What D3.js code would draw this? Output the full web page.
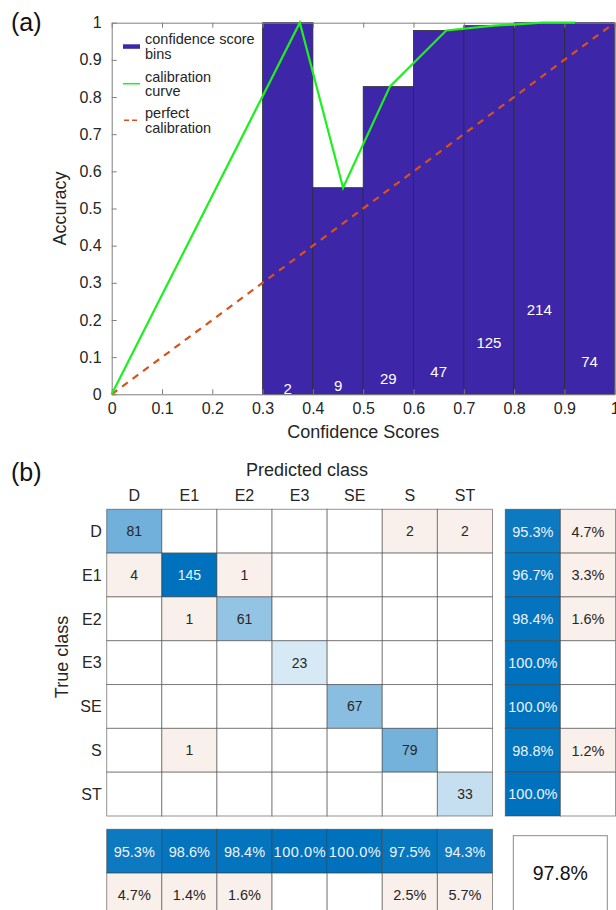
<!DOCTYPE html>
<html>
<head>
<meta charset="utf-8">
<script src="https://cdn.jsdelivr.net/npm/d3@7"></script>
<style>
body { margin: 0; background: #fff; }
svg { display: block; font-family: Arial, 'Liberation Sans', sans-serif; }
</style>
</head>
<body>
<svg id="chart" width="616" height="910"></svg>
<script>
// (a) reliability diagram
var binStart = [0.3, 0.4, 0.5, 0.6, 0.7, 0.8, 0.9]
var binEnd = [0.4, 0.5, 0.6, 0.7, 0.8, 0.9, 1.0]
var binAccuracy = [1.0, 0.556, 0.828, 0.979, 0.992, 1.0, 1.0]
var binCount = [2, 9, 29, 47, 125, 214, 74]
var curveConfidence = [0, 0.374, 0.46, 0.553, 0.665, 0.76, 0.856, 0.921]
var curveAccuracy = [0, 1.0, 0.556, 0.828, 0.979, 0.992, 1.0, 1.0]
var perfectConfidence = [0, 1]
var axisTicks = [0, 0.1, 0.2, 0.3, 0.4, 0.5, 0.6, 0.7, 0.8, 0.9, 1]

// (b) confusion matrix
var classes = ['D', 'E1', 'E2', 'E3', 'SE', 'S', 'ST']
var counts = [
	[81, 0, 0, 0, 0, 2, 2],
	[4, 145, 1, 0, 0, 0, 0],
	[0, 1, 61, 0, 0, 0, 0],
	[0, 0, 0, 23, 0, 0, 0],
	[0, 0, 0, 0, 67, 0, 0],
	[0, 1, 0, 0, 0, 79, 0],
	[0, 0, 0, 0, 0, 0, 33]
]
var rowCorrect = [95.3, 96.7, 98.4, 100.0, 100.0, 98.8, 100.0]
var rowWrong = [4.7, 3.3, 1.6, 0, 0, 1.2, 0]
var colCorrect = [95.3, 98.6, 98.4, 100.0, 100.0, 97.5, 94.3]
var colWrong = [4.7, 1.4, 1.6, 0, 0, 2.5, 5.7]
var overallAccuracy = 97.8

var svg = d3.select('#chart')
var textColor = '#262626',
	axisColor = '#808080',
	barColor = '#3D26A8',
	blue = '#0072BD',
	pink = '#FAF0EB'

// ---------- panel (a) ----------
var x = d3.scaleLinear().domain([0, 1]).range([111.7, 614.7]),
	y = d3.scaleLinear().domain([0, 1]).range([394.3, 22.7])

var pa = svg.append('g')

pa.append('text')
	.attr('x', 11)
	.attr('y', 31)
	.attr('font-size', 25)
	.attr('fill', '#111')
	.text('(a)')

var bins = binStart.map(function(d, i) {
	return {lo: d, hi: binEnd[i], acc: binAccuracy[i], n: binCount[i]}
})

pa.selectAll('rect.bin')
	.data(bins)
	.enter().append('rect')
	.attr('class', 'bin')
	.attr('x', function(d) { return x(d.lo) })
	.attr('y', function(d) { return y(d.acc) })
	.attr('width', function(d) { return x(d.hi) - x(d.lo) })
	.attr('height', function(d) { return y(0) - y(d.acc) })
	.attr('fill', barColor)
	.attr('stroke', '#2a2a36')
	.attr('stroke-width', 0.8)

function styleAxis(g) {
	g.attr('font-size', 16).attr('font-family', null)
	g.select('.domain').attr('stroke', axisColor)
	g.selectAll('.tick line').attr('stroke', axisColor)
	g.selectAll('.tick text').attr('fill', textColor)
}

pa.append('g')
	.attr('transform', 'translate(0,' + y(0) + ')')
	.call(d3.axisBottom(x).tickValues(axisTicks).tickSize(-5).tickSizeOuter(0).tickPadding(8).tickFormat(d3.format('~g')))
	.call(styleAxis)

pa.append('g')
	.attr('transform', 'translate(' + x(0) + ',0)')
	.call(d3.axisLeft(y).tickValues(axisTicks).tickSize(-5).tickSizeOuter(0).tickPadding(10).tickFormat(d3.format('~g')))
	.call(styleAxis)

pa.append('g')
	.attr('transform', 'translate(0,' + y(1) + ')')
	.call(d3.axisTop(x).tickValues(axisTicks).tickSize(-5).tickSizeOuter(0).tickFormat(''))
	.call(styleAxis)

pa.append('g')
	.attr('transform', 'translate(' + x(1) + ',0)')
	.call(d3.axisRight(y).tickValues([]).tickSizeOuter(0))
	.call(styleAxis)

pa.selectAll('text.count')
	.data(bins)
	.enter().append('text')
	.attr('class', 'count')
	.attr('x', function(d) { return x((d.lo + d.hi) / 2) })
	.attr('y', function(d) { return y(d.n / 1000) + 0.5 })
	.attr('text-anchor', 'middle')
	.attr('font-size', 15)
	.attr('fill', '#fff')
	.text(function(d) { return d.n })

var line = d3.line()
	.x(function(d) { return x(d[0]) })
	.y(function(d) { return y(d[1]) })

pa.append('path')
	.attr('d', line(perfectConfidence.map(function(d) { return [d, d] })))
	.attr('fill', 'none')
	.attr('stroke', '#D95319')
	.attr('stroke-width', 2.2)
	.attr('stroke-dasharray', '7,6')

pa.append('path')
	.attr('d', line(curveConfidence.map(function(d, i) { return [d, curveAccuracy[i]] })))
	.attr('fill', 'none')
	.attr('stroke', '#1EF01E')
	.attr('stroke-width', 2.2)
	.attr('stroke-linejoin', 'miter')

pa.append('text')
	.attr('x', x(0.5))
	.attr('y', 438)
	.attr('text-anchor', 'middle')
	.attr('font-size', 18)
	.attr('fill', textColor)
	.text('Confidence Scores')

pa.append('text')
	.attr('transform', 'translate(66,' + y(0.5) + ') rotate(-90)')
	.attr('text-anchor', 'middle')
	.attr('font-size', 18)
	.attr('fill', textColor)
	.text('Accuracy')

// legend
var legend = pa.append('g').attr('font-size', 14.5).attr('fill', textColor)
var legendItems = [
	{type: 'bar', lines: ['confidence score', 'bins'], top: 39.3},
	{type: 'curve', lines: ['calibration', 'curve'], top: 76.7},
	{type: 'perfect', lines: ['perfect', 'calibration'], top: 113.3}
]
legendItems.forEach(function(it) {
	var mid = it.top + 7
	if (it.type === 'bar') {
		legend.append('rect').attr('x', 123).attr('y', mid - 2).attr('width', 17).attr('height', 4.5).attr('fill', barColor)
	} else if (it.type === 'curve') {
		legend.append('line').attr('x1', 123).attr('x2', 140).attr('y1', mid).attr('y2', mid)
			.attr('stroke', '#1EF01E').attr('stroke-width', 1.5)
	} else {
		legend.append('line').attr('x1', 124).attr('x2', 140).attr('y1', mid).attr('y2', mid)
			.attr('stroke', '#D95319').attr('stroke-width', 1.5).attr('stroke-dasharray', '5,3')
	}
	it.lines.forEach(function(t, k) {
		legend.append('text').attr('x', 145).attr('y', it.top + 5 + k * 14.5).text(t)
	})
})

// ---------- panel (b) ----------
var pb = svg.append('g')

pb.append('text')
	.attr('x', 11)
	.attr('y', 481)
	.attr('font-size', 25)
	.attr('fill', '#111')
	.text('(b)')

var cx = d3.scaleBand().domain(classes).range([106.7, 492.5]),
	cy = d3.scaleBand().domain(classes).range([509.3, 816]),
	sx = d3.scaleBand().domain(['correct', 'wrong']).range([505.3, 505.3 + 2 * cx.bandwidth()]),
	sy = d3.scaleBand().domain(['correct', 'wrong']).range([829.3, 829.3 + 2 * cy.bandwidth()])

var maxCount = d3.max(counts, function(r) { return d3.max(r) })
var blueScale = d3.scaleLinear().domain([0, 1]).range(['#ffffff', blue]).interpolate(d3.interpolateRgb)
var gridColor = 'rgba(60,60,60,0.55)'

var cells = []
counts.forEach(function(row, i) {
	row.forEach(function(v, j) {
		cells.push({r: classes[i], c: classes[j], v: v, diag: i === j})
	})
})

function cellFill(d) {
	if (d.diag) return blueScale(d.v / maxCount)
	return d.v > 0 ? pink : '#fff'
}
function cellText(d) {
	return d.diag && d.v / maxCount > 0.7 ? '#eef3f8' : textColor
}

pb.selectAll('rect.cell')
	.data(cells)
	.enter().append('rect')
	.attr('class', 'cell')
	.attr('x', function(d) { return cx(d.c) })
	.attr('y', function(d) { return cy(d.r) })
	.attr('width', cx.bandwidth())
	.attr('height', cy.bandwidth())
	.attr('fill', cellFill)
	.attr('stroke', gridColor)
	.attr('stroke-width', 1)

pb.selectAll('text.cell')
	.data(cells.filter(function(d) { return d.v > 0 }))
	.enter().append('text')
	.attr('class', 'cell')
	.attr('x', function(d) { return cx(d.c) + cx.bandwidth() / 2 })
	.attr('y', function(d) { return cy(d.r) + cy.bandwidth() / 2 + 5 })
	.attr('text-anchor', 'middle')
	.attr('font-size', 14)
	.attr('fill', cellText)
	.text(function(d) { return d.v })

// row summary (right)
var rowSummary = []
classes.forEach(function(c, i) {
	rowSummary.push({r: c, k: 'correct', v: rowCorrect[i]})
	rowSummary.push({r: c, k: 'wrong', v: rowWrong[i]})
})
// column summary (bottom)
var colSummary = []
classes.forEach(function(c, i) {
	colSummary.push({c: c, k: 'correct', v: colCorrect[i]})
	colSummary.push({c: c, k: 'wrong', v: colWrong[i]})
})

function summaryFill(d) {
	if (d.k === 'correct') return blueScale(d.v / 100)
	return d.v > 0 ? pink : '#fff'
}
function summaryText(d) {
	return d.k === 'correct' ? '#eef3f8' : textColor
}

pb.selectAll('rect.rsum')
	.data(rowSummary)
	.enter().append('rect')
	.attr('class', 'rsum')
	.attr('x', function(d) { return sx(d.k) })
	.attr('y', function(d) { return cy(d.r) })
	.attr('width', sx.bandwidth())
	.attr('height', cy.bandwidth())
	.attr('fill', summaryFill)
	.attr('stroke', gridColor)

pb.selectAll('text.rsum')
	.data(rowSummary.filter(function(d) { return d.v > 0 }))
	.enter().append('text')
	.attr('class', 'rsum')
	.attr('x', function(d) { return sx(d.k) + sx.bandwidth() / 2 })
	.attr('y', function(d) { return cy(d.r) + cy.bandwidth() / 2 + 5.3 })
	.attr('text-anchor', 'middle')
	.attr('font-size', 14.5)
	.attr('fill', summaryText)
	.text(function(d) { return d.v.toFixed(1) + '%' })

pb.selectAll('rect.csum')
	.data(colSummary)
	.enter().append('rect')
	.attr('class', 'csum')
	.attr('x', function(d) { return cx(d.c) })
	.attr('y', function(d) { return sy(d.k) })
	.attr('width', cx.bandwidth())
	.attr('height', sy.bandwidth())
	.attr('fill', summaryFill)
	.attr('stroke', gridColor)

pb.selectAll('text.csum')
	.data(colSummary.filter(function(d) { return d.v > 0 }))
	.enter().append('text')
	.attr('class', 'csum')
	.attr('x', function(d) { return cx(d.c) + cx.bandwidth() / 2 })
	.attr('y', function(d) { return sy(d.k) + sy.bandwidth() / 2 + 5.3 })
	.attr('text-anchor', 'middle')
	.attr('font-size', 14.5)
	.attr('textLength', function(d) { return d.v >= 100 ? 52 : null })
	.attr('fill', summaryText)
	.text(function(d) { return d.v.toFixed(1) + '%' })

// overall accuracy box
pb.append('rect')
	.attr('x', 513.3)
	.attr('y', 835.7)
	.attr('width', 94)
	.attr('height', 94)
	.attr('fill', '#fff')
	.attr('stroke', '#8a8a8a')

pb.append('text')
	.attr('x', 560.3)
	.attr('y', 880)
	.attr('text-anchor', 'middle')
	.attr('font-size', 19.5)
	.attr('fill', '#111')
	.text(overallAccuracy.toFixed(1) + '%')

// class labels
pb.selectAll('text.colLabel')
	.data(classes)
	.enter().append('text')
	.attr('class', 'colLabel')
	.attr('x', function(d) { return cx(d) + cx.bandwidth() / 2 })
	.attr('y', 501)
	.attr('text-anchor', 'middle')
	.attr('font-size', 16)
	.attr('fill', textColor)
	.text(function(d) { return d })

pb.selectAll('text.rowLabel')
	.data(classes)
	.enter().append('text')
	.attr('class', 'rowLabel')
	.attr('x', 101.7)
	.attr('y', function(d) { return cy(d) + cy.bandwidth() / 2 + 5.7 })
	.attr('text-anchor', 'end')
	.attr('font-size', 16)
	.attr('fill', textColor)
	.text(function(d) { return d })

pb.append('text')
	.attr('x', 307)
	.attr('y', 475.5)
	.attr('text-anchor', 'middle')
	.attr('font-size', 18)
	.attr('fill', textColor)
	.text('Predicted class')

pb.append('text')
	.attr('transform', 'translate(68.3,' + 657 + ') rotate(-90)')
	.attr('text-anchor', 'middle')
	.attr('font-size', 18)
	.attr('fill', textColor)
	.text('True class')
</script>
</body>
</html>
